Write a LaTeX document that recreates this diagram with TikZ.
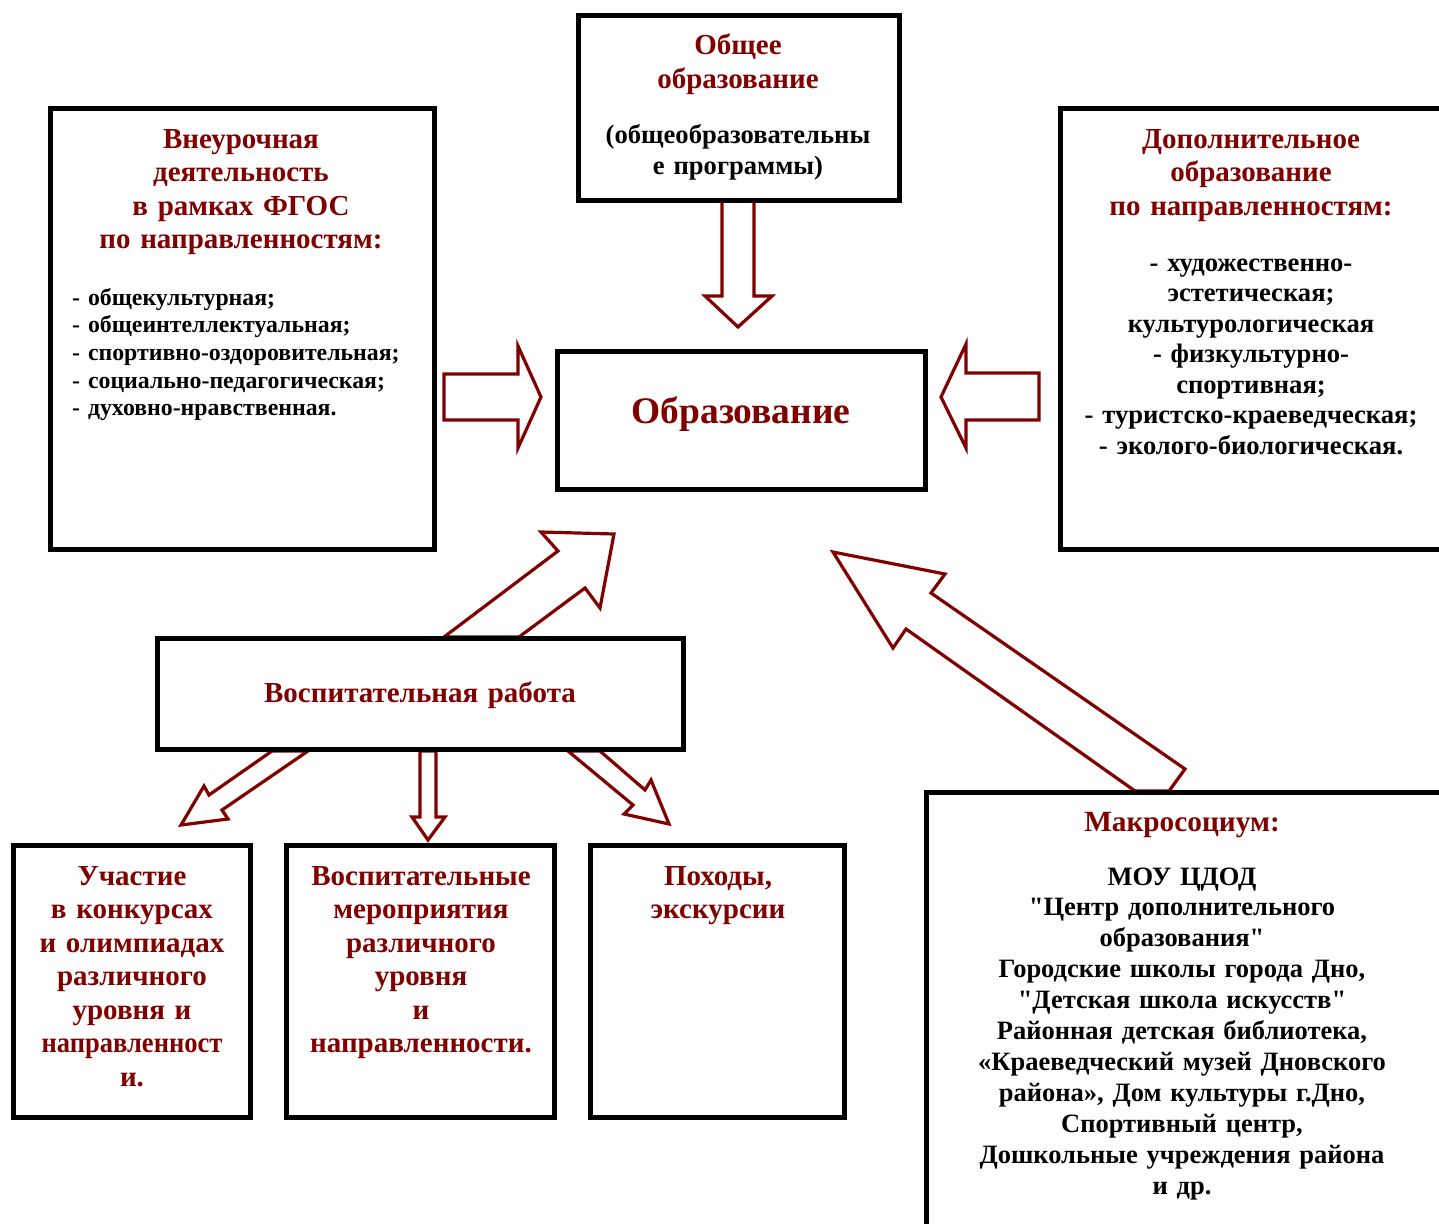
\documentclass[tikz,border=0pt]{standalone}
\usepackage{fontspec}
\newfontfamily\lib{Liberation Serif}
\definecolor{mar}{HTML}{800000}
\tikzset{
  box/.style={draw=black, line width=5pt, fill=white, inner sep=0pt, rectangle},
  barrow/.style={draw=mar, line width=3.2pt, fill=white, line join=miter},
  ttl/.style={text=mar, font=\lib\bfseries\fontsize{29}{33.5}\selectfont, align=center, text width=420pt, inner sep=0pt, anchor=base},
  lst/.style={text=black, font=\lib\bfseries\fontsize{26.6}{30.5}\selectfont, align=center, text width=480pt, inner sep=0pt, anchor=base},
}
\begin{document}
\begin{tikzpicture}[x=1pt,y=-1pt]
\useasboundingbox (0,0) rectangle (1439,1223);
\clip (0,0) rectangle (1439,1223);
\fill[white] (0,0) rectangle (1439,1223);
% block arrows
\draw[barrow] (722,201) -- (722,296) -- (705,296) -- (738,327) -- (772,296) -- (754,296) -- (754,201) -- cycle;
\draw[barrow] (444,374) -- (518,374) -- (518,346) -- (541,397) -- (518,448) -- (518,420) -- (444,420) -- cycle;
\draw[barrow] (1039,373) -- (966,373) -- (966,344) -- (941,397) -- (966,448) -- (966,420) -- (1039,420) -- cycle;
\draw[barrow] (444,637) -- (558,551) -- (541,532) -- (614,534) -- (600,608) -- (585,588) -- (519,637) -- cycle;
\draw[barrow] (1135,791) -- (906,629) -- (893,648) -- (833,552) -- (945,574) -- (931,593) -- (1185,769) -- (1169,791) -- cycle;
\draw[barrow] (272,751) -- (209,795) -- (204,786) -- (181,825) -- (228,819) -- (222,810) -- (308,751) -- cycle;
\draw[barrow] (420,751) -- (420,817) -- (412,817) -- (428,840) -- (445,817) -- (436,817) -- (436,751) -- cycle;
\draw[barrow] (568,751) -- (633,805) -- (624,814) -- (669,824) -- (651,780) -- (645,790) -- (600,751) -- cycle;
% boxes
\node[box, minimum width=384pt, minimum height=441pt] (vneur) at (242,328.5) {};
\node[box, minimum width=321pt, minimum height=184pt] (obsh) at (738.5,108) {};
\node[box, minimum width=400pt, minimum height=441pt] (dop) at (1260,328.5) {};
\node[box, minimum width=368pt, minimum height=138pt] (obr) at (741,420) {};
\node[box, minimum width=526pt, minimum height=111pt] (vosp) at (420.5,694) {};
\node[box, minimum width=237pt, minimum height=272pt] (uch) at (132,981.5) {};
\node[box, minimum width=268pt, minimum height=272pt] (vmer) at (420.5,981.5) {};
\node[box, minimum width=254pt, minimum height=272pt] (poh) at (717.5,981.5) {};
\node[box, minimum width=533pt, minimum height=457pt] (makro) at (1193,1021) {};
% texts
\node[ttl] (t1) at (241,148) {Внеурочная\\деятельность\\в рамках ФГОС\\по направленностям:};
\node[lst, align=left, text width=360pt, anchor=base west, font=\lib\bfseries\fontsize{23.8}{27.7}\selectfont] (l1) at (72,305) {- общекультурная;\\- общеинтеллектуальная;\\- спортивно-оздоровительная;\\- социально-педагогическая;\\- духовно-нравственная.};
\node[ttl] (t2) at (738,55) {Общее\\образование};
\node[lst, font=\lib\bfseries\fontsize{26.6}{31}\selectfont] (l2) at (738,143) {(общеобразовательны\\е программы)};
\node[ttl] (t3) at (1251,148) {Дополнительное\\образование\\по направленностям:};
\node[lst] (l3) at (1251,271) {- художественно-\\эстетическая;\\культурологическая\\- физкультурно-\\спортивная;\\- туристско-краеведческая;\\- эколого-биологическая.};
\node[ttl, font=\lib\bfseries\fontsize{37.5}{40}\selectfont] (t4) at (741,423) {Образование};
\node[ttl] (t5) at (420,702) {Воспитательная работа};
\node[ttl] (t6) at (132,885) {Участие\\в конкурсах\\и олимпиадах\\различного\\уровня и\\\scalebox{0.915}[1]{направленност}\\и.};
\node[ttl] (t7) at (421,885) {Воспитательные\\мероприятия\\различного\\уровня\\и\\направленности.};
\node[ttl] (t8) at (718,885) {Походы,\\экскурсии};
\node[ttl, font=\lib\bfseries\fontsize{29.3}{31}\selectfont] (t9) at (1182,831) {Макросоциум:};
\node[lst, font=\lib\bfseries\fontsize{26.5}{30.9}\selectfont] (l9) at (1182,885) {МОУ ЦДОД\\"Центр дополнительного\\образования"\\Городские школы города Дно,\\"Детская школа искусств"\\Районная детская библиотека,\\«Краеведческий музей Дновского\\района», Дом культуры г.Дно,\\Спортивный центр,\\Дошкольные учреждения района\\и др.};
\end{tikzpicture}
\end{document}
